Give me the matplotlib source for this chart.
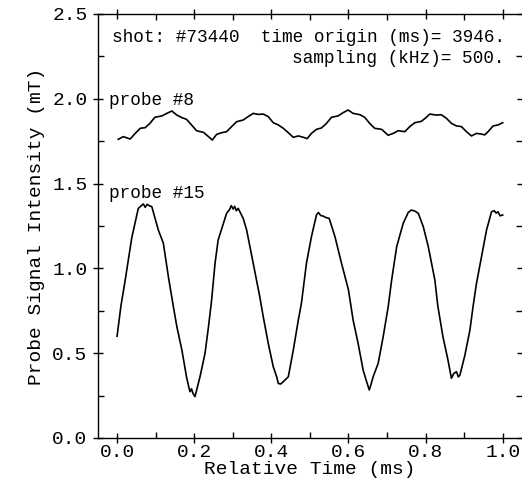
import matplotlib
matplotlib.use("Agg")
import matplotlib.pyplot as plt
from matplotlib.ticker import MultipleLocator

plt.rcParams['font.family'] = ['Liberation Mono', 'DejaVu Sans Mono']

# probe #8 (time in ms, intensity in mT)
t8 = [0.003, 0.016, 0.034, 0.047, 0.060, 0.073, 0.085, 0.098, 0.116, 0.129,
      0.142, 0.155, 0.168, 0.180, 0.193, 0.206, 0.224, 0.237, 0.247, 0.258,
      0.271, 0.284, 0.297, 0.310, 0.327, 0.340, 0.353, 0.366, 0.379, 0.392,
      0.405, 0.418, 0.431, 0.444, 0.457, 0.470, 0.483, 0.493, 0.504, 0.517,
      0.530, 0.543, 0.556, 0.573, 0.586, 0.599, 0.612, 0.630, 0.642, 0.655,
      0.668, 0.686, 0.703, 0.716, 0.729, 0.746, 0.759, 0.772, 0.789, 0.802,
      0.811, 0.828, 0.841, 0.854, 0.867, 0.880, 0.893, 0.906, 0.919, 0.932,
      0.945, 0.953, 0.962, 0.975, 0.988, 1.000]
v8 = [1.761, 1.777, 1.763, 1.796, 1.826, 1.830, 1.855, 1.891, 1.899, 1.914,
      1.928, 1.904, 1.889, 1.879, 1.846, 1.812, 1.802, 1.777, 1.757, 1.790,
      1.800, 1.806, 1.836, 1.865, 1.875, 1.895, 1.914, 1.908, 1.910, 1.895,
      1.859, 1.846, 1.826, 1.800, 1.773, 1.781, 1.773, 1.765, 1.796, 1.820,
      1.828, 1.855, 1.891, 1.899, 1.918, 1.934, 1.914, 1.906, 1.891, 1.855,
      1.826, 1.820, 1.785, 1.796, 1.812, 1.806, 1.836, 1.859, 1.867, 1.891,
      1.910, 1.904, 1.906, 1.885, 1.855, 1.840, 1.836, 1.806, 1.781, 1.796,
      1.792, 1.787, 1.806, 1.840, 1.846, 1.859]

# probe #15
t15 = [0.000, 0.010, 0.021, 0.038, 0.055, 0.062, 0.068, 0.073, 0.078, 0.083,
       0.090, 0.107, 0.120, 0.133, 0.146, 0.155, 0.168, 0.180, 0.186, 0.189,
       0.193, 0.197, 0.202, 0.215, 0.228, 0.237, 0.245, 0.254, 0.262, 0.284,
       0.292, 0.296, 0.301, 0.305, 0.309, 0.314, 0.327, 0.336, 0.353, 0.370,
       0.379, 0.392, 0.405, 0.414, 0.418, 0.424, 0.431, 0.444, 0.457, 0.470,
       0.478, 0.491, 0.504, 0.517, 0.522, 0.528, 0.535, 0.541, 0.550, 0.565,
       0.582, 0.600, 0.612, 0.625, 0.638, 0.646, 0.654, 0.659, 0.664, 0.677,
       0.690, 0.703, 0.712, 0.725, 0.742, 0.755, 0.763, 0.772, 0.781, 0.794,
       0.807, 0.824, 0.832, 0.845, 0.858, 0.867, 0.873, 0.880, 0.885, 0.889,
       0.902, 0.915, 0.923, 0.932, 0.945, 0.958, 0.971, 0.978, 0.983, 0.988,
       0.993, 1.000]
v15 = [0.600, 0.780, 0.930, 1.180, 1.354, 1.368, 1.380, 1.360, 1.378, 1.370,
       1.364, 1.226, 1.148, 0.951, 0.774, 0.656, 0.519, 0.361, 0.300, 0.273,
       0.290, 0.262, 0.244, 0.361, 0.499, 0.656, 0.810, 1.030, 1.167, 1.325,
       1.348, 1.370, 1.350, 1.366, 1.340, 1.354, 1.295, 1.226, 1.030, 0.833,
       0.715, 0.558, 0.420, 0.360, 0.322, 0.318, 0.332, 0.361, 0.519, 0.696,
       0.794, 1.030, 1.187, 1.315, 1.330, 1.312, 1.308, 1.300, 1.295, 1.187,
       1.030, 0.873, 0.696, 0.558, 0.401, 0.340, 0.283, 0.320, 0.361, 0.440,
       0.597, 0.774, 0.932, 1.128, 1.266, 1.330, 1.344, 1.338, 1.325, 1.246,
       1.128, 0.932, 0.774, 0.597, 0.460, 0.352, 0.380, 0.391, 0.360, 0.371,
       0.489, 0.637, 0.774, 0.912, 1.069, 1.226, 1.334, 1.340, 1.326, 1.334,
       1.310, 1.315]

xticks = [0.0, 0.2, 0.4, 0.6, 0.8, 1.0]
yticks = [0.0, 0.5, 1.0, 1.5, 2.0, 2.5]

fig = plt.figure(figsize=(5.22, 4.93), dpi=100)
ax = fig.add_axes([98/522, 1 - 438/493, 1 - 98/522, (438 - 14)/493])

ax.plot(t8, v8, color='black', lw=1.2)
ax.plot(t15, v15, color='black', lw=1.2)

ax.set_xlim(-0.0495, 1.05)
ax.set_ylim(0, 2.5)
ax.set_xticks(xticks)
ax.set_yticks(yticks)
ax.set_xticklabels([f"{v:.1f}" for v in xticks])
ax.set_yticklabels([f"{v:.1f}" for v in yticks])
ax.xaxis.set_minor_locator(MultipleLocator(0.1))
ax.yaxis.set_minor_locator(MultipleLocator(0.25))

ax.spines['right'].set_visible(False)
for s in ['left', 'bottom', 'top']:
    ax.spines[s].set_linewidth(1.0)

ax.tick_params(which='major', direction='inout', length=7, width=1.0,
               top=True, right=True, labelsize=14)
ax.tick_params(axis='x', which='major', pad=1)
ax.tick_params(axis='y', which='major', pad=4)
ax.tick_params(which='minor', direction='in', length=4, width=1.0,
               top=True, right=True)

ax.set_xlabel('Relative Time (ms)', fontsize=14, labelpad=0)
ax.set_ylabel('Probe Signal Intensity (mT)', fontsize=14, labelpad=5)

ax.text(-0.013, 2.36, 'shot: #73440  time origin (ms)= 3946.', fontsize=12.8,
        ha='left', va='center')
ax.text(1.004, 2.235, 'sampling (kHz)= 500.', fontsize=12.8,
        ha='right', va='center')
ax.text(-0.02, 1.99, 'probe #8', fontsize=12.8, ha='left', va='center')
ax.text(-0.02, 1.44, 'probe #15', fontsize=12.8, ha='left', va='center')

fig.savefig('out.png', dpi=100)
